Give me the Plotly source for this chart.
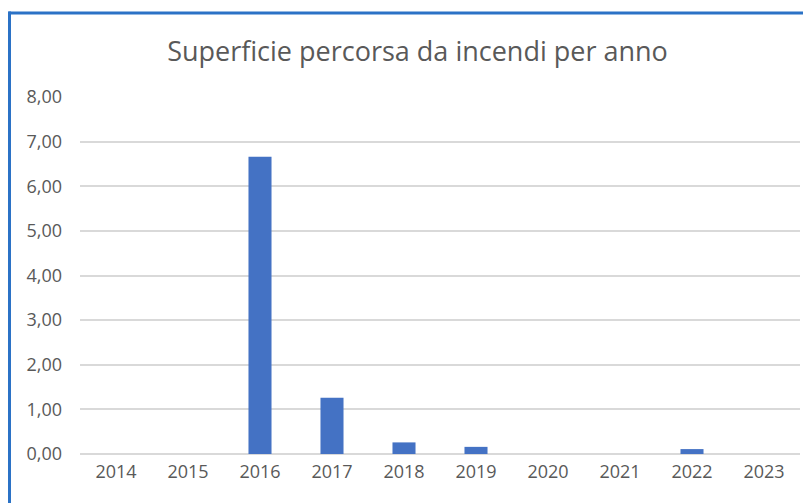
import plotly.graph_objects as go

years = ["2014", "2015", "2016", "2017", "2018", "2019", "2020", "2021", "2022", "2023"]
area = [0.0, 0.0, 6.66, 1.26, 0.26, 0.16, 0.0, 0.0, 0.11, 0.0]
y_ticks = [0, 1, 2, 3, 4, 5, 6, 7, 8]

# page body has an 8px margin: work in screen pixels and shift by OFF
OFF = 8
W, H = 811 - OFF, 503 - OFF
ML, MR, MT, MB = 80 - OFF, 11, 97 - OFF, 49
pw, ph = W - ML - MR, H - MT - MB

def px(x):
    return (x - OFF - ML) / pw

def py(y):
    return (H - MB - (y - OFF)) / ph

grey = "#595959"
fig = go.Figure(go.Bar(x=years, y=area, marker=dict(color="#4472c4", line=dict(width=0)),
                       width=0.32))

fig.update_layout(
    width=W, height=H,
    margin=dict(l=ML, r=MR, t=MT, b=MB),
    paper_bgcolor="white", plot_bgcolor="white",
    separators=",.",
    font=dict(family="Open Sans", color=grey, size=18),
    title=dict(text="Superficie percorsa da incendi per anno", x=(417.5 - OFF) / W,
               xanchor="center", y=1 - (51.5 - OFF) / H, yanchor="middle",
               font=dict(family="Open Sans", size=27, color=grey)),
    showlegend=False,
    xaxis=dict(type="category", showgrid=False, showline=False, ticks="",
               tickfont=dict(size=18, color=grey), ticklabelstandoff=5),
    yaxis=dict(range=[0, 8], tickvals=y_ticks, tickformat=".2f", showgrid=True,
               gridcolor="#d9d9d9", gridwidth=1.5, zeroline=True, zerolinecolor="#d9d9d9",
               zerolinewidth=1.5, showline=False, ticks="", ticklabelstandoff=17,
               tickfont=dict(size=18, color=grey)),
    shapes=[
        dict(type="line", xref="paper", yref="paper", x0=px(8.5), x1=px(820),
             y0=py(13), y1=py(13), line=dict(color="#2b72c6", width=3)),
        dict(type="line", xref="paper", yref="paper", x0=px(9.5), x1=px(9.5),
             y0=py(11.5), y1=py(515), line=dict(color="#2b72c6", width=3)),
    ],
)

fig.write_html("out.html")
